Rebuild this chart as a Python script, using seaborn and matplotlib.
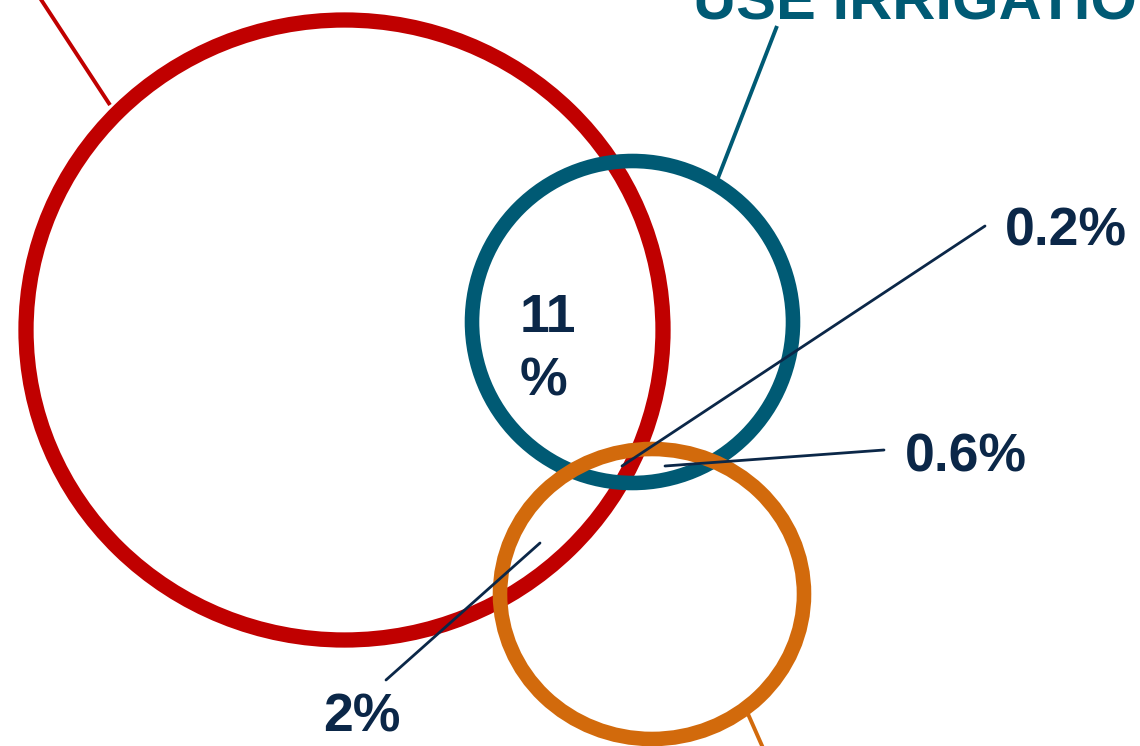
import matplotlib
matplotlib.use("Agg")
import matplotlib.pyplot as plt
from matplotlib.patches import Ellipse
import seaborn as sns

sns.set_theme(style="white")
plt.rcParams['font.family'] = ['Liberation Sans', 'DejaVu Sans']

# Venn circles (pixel-space layout)
circle_names = ["red", "irrigation", "orange"]
circle_cx = [344.5, 632.5, 652]
circle_cy = [330, 322, 594]
circle_w = [637, 321, 304]
circle_h = [620, 322, 290]
circle_colors = ["#C00000", "#005A74", "#D26A0C"]
circle_lw = [11, 10.5, 10.5]

# overlap labels
labels = ["11\n%", "0.2%", "0.6%", "2%"]
label_x = [520, 1005, 905, 323]
label_y = [396, 246, 471, 732]

NAVY = "#0B2748"

fig = plt.figure(figsize=(11.4, 7.46), dpi=100)
ax = fig.add_axes([0, 0, 1, 1])
ax.set_xlim(0, 1140)
ax.set_ylim(746, 0)
ax.axis("off")

for cx, cy, w, h, c, lw in zip(circle_cx, circle_cy, circle_w, circle_h, circle_colors, circle_lw):
    ax.add_patch(Ellipse((cx, cy), w, h, fill=False, edgecolor=c, lw=lw))

# leader lines for circle titles
ax.plot([40, 110], [-2, 105], color="#C00000", lw=2.8, solid_capstyle="butt")
ax.plot([777, 718], [26, 178], color="#005A74", lw=2.8, solid_capstyle="butt")
ax.plot([748, 763], [714, 748], color="#D26A0C", lw=2.8, solid_capstyle="butt")

# leader lines for overlap labels
ax.plot([985, 622], [226, 466], color=NAVY, lw=2.0)
ax.plot([884, 665], [450, 466], color=NAVY, lw=2.0)
ax.plot([540, 386], [543, 680], color=NAVY, lw=2.0)

ax.text(693, 20, "USE IRRIGATION", color="#005A74", fontsize=43, fontweight="bold",
        ha="left", va="baseline")

for t, x, y in zip(labels, label_x, label_y):
    ax.text(x, y, t, color=NAVY, fontsize=38.5, fontweight="bold", ha="left",
            va="baseline", linespacing=1.37)

fig.savefig("out.png", dpi=100)
